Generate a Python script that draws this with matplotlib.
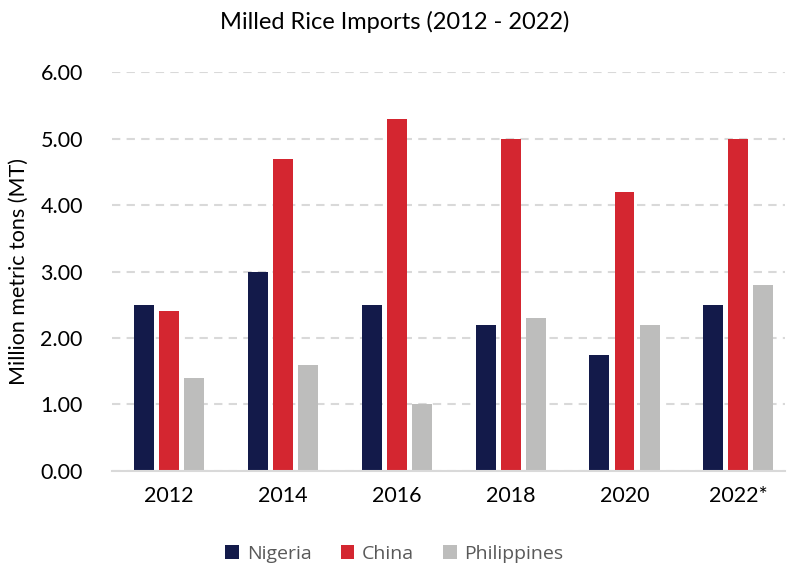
import matplotlib.pyplot as plt
import numpy as np

plt.rcParams['font.family'] = ['Lato', 'DejaVu Sans']

years = ['2012', '2014', '2016', '2018', '2020', '2022*']
nigeria = [2.5, 3.0, 2.5, 2.2, 1.75, 2.5]
china = [2.4, 4.7, 5.3, 5.0, 4.2, 5.0]
philippines = [1.4, 1.6, 1.0, 2.3, 2.2, 2.8]

c_nig = '#131A4A'
c_chn = '#D42630'
c_phl = '#BDBDBC'

fig = plt.figure(figsize=(7.89, 5.68), dpi=100)
ax = fig.add_axes([0.142, 0.171, 0.853, 0.702])

x = np.arange(len(years))
w = 0.175
off = 0.22
ax.bar(x - off, nigeria, w, color=c_nig, label='Nigeria', zorder=3)
ax.bar(x, china, w, color=c_chn, label='China', zorder=3)
ax.bar(x + off, philippines, w, color=c_phl, label='Philippines', zorder=3)

ax.set_ylim(0, 6)
ax.set_xlim(-0.5, 5.41)
ax.set_yticks(np.arange(0, 7, 1))
ax.set_yticklabels([f'{v:.2f}' for v in range(7)])
ax.set_xticks(x)
ax.set_xticklabels(years)
ax.tick_params(length=0, labelsize=15.5, colors='black', pad=11)
ax.tick_params(axis='y', pad=21)
ax.yaxis.grid(True, linestyle=(0, (4, 3)), color='#D9D9D9', linewidth=1.5, zorder=0)

for s in ['top', 'right', 'left']:
    ax.spines[s].set_visible(False)
ax.spines['bottom'].set_color('#D9D9D9')
ax.spines['bottom'].set_linewidth(1.5)
ax.spines['bottom'].set_zorder(4)

ax.set_ylabel('Million metric tons (MT)', fontsize=15.5, labelpad=8)
fig.suptitle('Milled Rice Imports (2012 - 2022)', fontsize=17, y=0.98)

leg = fig.legend(loc='center', bbox_to_anchor=(0.5, 0.025), ncol=3, frameon=False,
                 prop={'family': 'Open Sans', 'size': 14}, handlelength=0.7,
                 handleheight=0.7, handletextpad=0.4, columnspacing=1.5)
for t in leg.get_texts():
    t.set_color('#595959')

fig.savefig('out.png', dpi=100)
